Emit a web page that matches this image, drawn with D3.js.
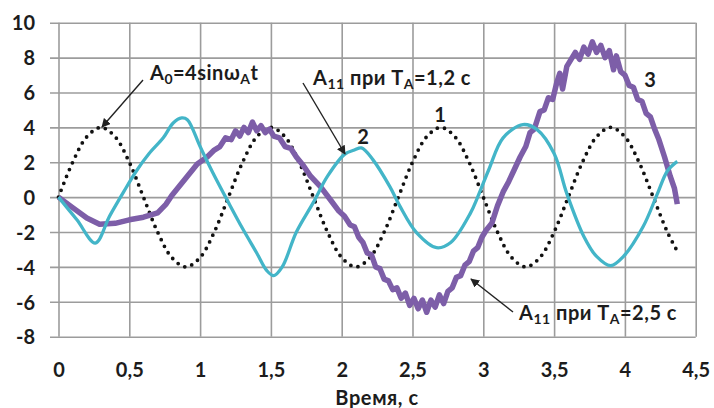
<!DOCTYPE html>
<html>
<head>
<meta charset="utf-8">
<script src="https://cdn.jsdelivr.net/npm/d3@7/dist/d3.min.js"></script>
<style>
  html, body { margin: 0; padding: 0; background: #ffffff; }
  svg { display: block; }
  text { font-family: Lato, "Open Sans", sans-serif; font-weight: 700; fill: #1c1c1c; }
</style>
</head>
<body>
<script>
// Tick values of both axes
const xTicks = [0, 0.5, 1, 1.5, 2, 2.5, 3, 3.5, 4, 4.5];
const yTicks = [-8, -6, -4, -2, 0, 2, 4, 6, 8, 10];

// 1: reference oscillation A0 = 4 sin(wA t), sampled every 0.1 s
const sineTime = [0, 0.1, 0.2, 0.3, 0.4, 0.5, 0.6, 0.7, 0.8, 0.9, 1.0, 1.1,
                  1.2, 1.3, 1.4, 1.5, 1.6, 1.7, 1.8, 1.9, 2.0, 2.1, 2.2, 2.3,
                  2.4, 2.5, 2.6, 2.7, 2.8, 2.9, 3.0, 3.1, 3.2, 3.3, 3.4, 3.5,
                  3.6, 3.7, 3.8, 3.9, 4.0, 4.1, 4.2, 4.3, 4.36];
const sineValue = [0, 2, 3.46, 4, 3.46, 2, 0, -2, -3.46, -4, -3.46, -2,
                   0, 2, 3.46, 4, 3.46, 2, 0, -2, -3.46, -4, -3.46, -2,
                   0, 2, 3.46, 4, 3.46, 2, 0, -2, -3.46, -4, -3.46, -2,
                   0, 2, 3.46, 4, 3.46, 2, 0, -2, -2.95];

// 2: A11 response at TA = 1.2 s
const cyanTime = [0, 0.13, 0.26, 0.36, 0.46, 0.55, 0.64, 0.74, 0.81, 0.87, 0.91, 1.0,
                  1.09, 1.2, 1.3, 1.4, 1.47, 1.52, 1.58, 1.68, 1.8, 1.9, 2.02, 2.09, 2.14,
                  2.22, 2.34, 2.41, 2.53, 2.67, 2.77, 2.91, 2.96, 3.04, 3.14, 3.28, 3.38,
                  3.5, 3.59, 3.71, 3.8, 3.9, 3.99, 4.13, 4.23, 4.3, 4.37];
const cyanValue = [0, -1.3, -2.63, -1.1, 0.3, 1.5, 2.5, 3.4, 4.25, 4.54, 4.44, 2.9,
                   1.4, -0.3, -1.8, -3.2, -4.2, -4.5, -4.0, -2.0, -0.3, 1.2, 2.45, 2.7, 2.82,
                   2.15, 0.6, -0.5, -2.05, -2.9, -2.6, -0.9, 0.0, 1.6, 3.4, 4.16, 3.87,
                   2.5, 0.2, -2.25, -3.4, -3.93, -3.4, -1.67, 0.2, 1.5, 2.05];

// 3: A11 response at TA = 2.5 s (noisy record)
const purpleTime = [0, 0.1, 0.2, 0.29, 0.4, 0.5, 0.6, 0.7, 0.76, 0.8, 0.9, 0.98,
                    1.05, 1.1, 1.14, 1.18, 1.22, 1.25, 1.28, 1.31, 1.34, 1.37, 1.4, 1.43,
                    1.46, 1.49, 1.52, 1.56, 1.6, 1.64, 1.68, 1.73, 1.78, 1.85, 1.92, 1.98,
                    2.02, 2.06, 2.09, 2.12, 2.15, 2.18, 2.21, 2.24, 2.27, 2.3, 2.33, 2.36,
                    2.39, 2.42, 2.45, 2.48, 2.51, 2.54, 2.57, 2.6, 2.63, 2.66, 2.69, 2.72,
                    2.75, 2.78, 2.81, 2.84, 2.87, 2.9, 2.93, 2.96, 2.99, 3.02, 3.06, 3.1,
                    3.14, 3.18, 3.22, 3.26, 3.3, 3.33, 3.36, 3.4, 3.43, 3.46, 3.49, 3.52,
                    3.54, 3.56, 3.59, 3.62, 3.65, 3.68, 3.71, 3.74, 3.77, 3.8, 3.83, 3.86,
                    3.89, 3.92, 3.94, 3.97, 4.0, 4.03, 4.06, 4.09, 4.12, 4.15, 4.18, 4.21,
                    4.24, 4.28, 4.32, 4.35, 4.37];
const purpleValue = [0, -0.6, -1.2, -1.55, -1.5, -1.3, -1.15, -0.9, -0.4, 0.1, 1.1, 1.9,
                     2.3, 2.7, 2.9, 3.4, 3.3, 3.8, 3.5, 4.0, 3.7, 4.3, 3.8, 4.1,
                     3.7, 3.9, 3.5, 3.4, 2.9, 2.8, 2.3, 1.8, 1.2, 0.6, -0.15, -0.8,
                     -1.1, -1.6, -1.7, -2.3, -2.6, -3.2, -3.3, -4.0, -4.1, -4.7, -4.8, -5.3,
                     -5.2, -5.8, -5.5, -6.2, -5.8, -6.4, -5.9, -6.6, -5.9, -6.3, -5.6, -6.1,
                     -5.4, -5.2, -4.6, -4.5, -3.9, -3.7, -3.1, -2.9, -2.3, -1.9, -1.5, -0.5,
                     0.3, 0.9, 1.6, 2.3, 2.9, 3.7, 3.9, 4.9, 5.0, 5.7, 5.6, 6.6,
                     7.1, 6.2, 7.5, 7.9, 8.3, 7.9, 8.6, 8.2, 8.9, 8.3, 8.7, 8.0,
                     8.4, 7.3, 8.1, 7.2, 7.0, 6.4, 6.3, 5.6, 5.5, 4.8, 4.6, 3.9,
                     3.3, 2.3, 1.2, 0.5, -0.4];

const W = 714, H = 408;
const FS = 20;
const svg = d3.select("body").append("svg").attr("width", W).attr("height", H);

const x = d3.scaleLinear().domain([0, 4.5]).range([58.5, 695.7]);
const y = d3.scaleLinear().domain([-8, 10]).range([336.7, 22.7]);
const gridLeft = 50;
const comma = d => String(d).replace(".", ",");

// Horizontal grid
svg.append("g")
  .attr("transform", `translate(${gridLeft},0)`)
  .call(d3.axisRight(y).tickValues(yTicks).tickSize(x.range()[1] - gridLeft).tickFormat(""))
  .call(g => g.select(".domain").remove())
  .call(g => g.selectAll("line").attr("stroke", "#9c9c9c").attr("stroke-width", 1.6));

// Vertical grid
svg.append("g")
  .attr("transform", `translate(0,${y(-8)})`)
  .call(d3.axisTop(x).tickValues(xTicks).tickSize(y(-8) - y(10)).tickFormat(""))
  .call(g => g.select(".domain").remove())
  .call(g => g.selectAll("line").attr("stroke", "#9c9c9c").attr("stroke-width", 1.6));

// Y tick labels
svg.append("g")
  .attr("transform", `translate(${x(0)},0)`)
  .call(d3.axisLeft(y).tickValues(yTicks).tickSize(0).tickPadding(x(0) - 35).tickFormat(d => d))
  .call(g => g.select(".domain").remove())
  .call(g => g.selectAll("text").attr("font-size", FS).attr("dy", "0.36em")
    .style("font-family", "Lato, sans-serif").style("font-weight", 700).attr("fill", "#1c1c1c"));

// X tick labels
svg.append("g")
  .attr("transform", `translate(0,${y(-8)})`)
  .call(d3.axisBottom(x).tickValues(xTicks).tickSize(0).tickFormat(comma))
  .call(g => g.select(".domain").remove())
  .call(g => g.selectAll("text").attr("font-size", FS).attr("y", 40.5).attr("dy", 0)
    .style("font-family", "Lato, sans-serif").style("font-weight", 700).attr("fill", "#1c1c1c"));

// Axis title
svg.append("text")
  .attr("x", (x.range()[0] + x.range()[1]) / 2).attr("y", 405)
  .attr("text-anchor", "middle").attr("font-size", FS).attr("letter-spacing", 0.6)
  .text("Время, с");

const zip = (a, b) => a.map((t, i) => [t, b[i]]);

// Reference sine, dotted
svg.append("path")
  .attr("d", d3.line().x(d => x(d[0])).y(d => y(d[1])).curve(d3.curveCatmullRom)(zip(sineTime, sineValue)))
  .attr("fill", "none").attr("stroke", "#111")
  .attr("stroke-width", 3.8).attr("stroke-linecap", "round")
  .attr("stroke-dasharray", "0 7.4");

// Purple response
svg.append("path")
  .attr("d", d3.line().x(d => x(d[0])).y(d => y(d[1])).curve(d3.curveLinear)(zip(purpleTime, purpleValue)))
  .attr("fill", "none").attr("stroke", "#7d5ea8")
  .attr("stroke-width", 5.5).attr("stroke-linejoin", "round");

// Cyan response
svg.append("path")
  .attr("d", d3.line().x(d => x(d[0])).y(d => y(d[1])).curve(d3.curveCatmullRom)(zip(cyanTime, cyanValue)))
  .attr("fill", "none").attr("stroke", "#43b5c8")
  .attr("stroke-width", 3.3).attr("stroke-linejoin", "round");

// Arrow marker
svg.append("defs").append("marker")
  .attr("id", "head").attr("viewBox", "0 0 10 10")
  .attr("refX", 9).attr("refY", 5)
  .attr("markerWidth", 9).attr("markerHeight", 9)
  .attr("markerUnits", "userSpaceOnUse")
  .attr("orient", "auto")
  .append("path").attr("d", "M0,0 L10,5 L0,10 Z").attr("fill", "#222");

const arrows = [
  [[143, 80], [102, 127]],
  [[303, 83], [345, 154]],
  [[513, 312], [471, 279]]
];
svg.append("g").selectAll("line").data(arrows).join("line")
  .attr("x1", d => d[0][0]).attr("y1", d => d[0][1])
  .attr("x2", d => d[1][0]).attr("y2", d => d[1][1])
  .attr("stroke", "#222").attr("stroke-width", 1.4)
  .attr("marker-end", "url(#head)");

// Annotation labels with subscripts
function label(px, py, parts) {
  const t = svg.append("text").attr("x", px).attr("y", py)
    .attr("font-size", FS).attr("letter-spacing", 0.5);
  parts.forEach(p => {
    const s = t.append("tspan").text(p[0]);
    if (p[1] === "sub") s.attr("font-size", 14).attr("dy", 4);
    else if (p[1] === "up") s.attr("dy", -4);
  });
  return t;
}
label(150, 80, [["A"], ["0", "sub"], ["=4sin", "up"], ["ω"], ["A", "sub"], ["t", "up"]]);
label(313, 85, [["A"], ["11", "sub"], [" при T", "up"], ["A", "sub"], ["=1,2 с", "up"]]);
label(519, 320, [["A"], ["11", "sub"], [" при T", "up"], ["A", "sub"], ["=2,5 с", "up"]]);

svg.append("text").attr("x", 440).attr("y", 122).attr("text-anchor", "middle").attr("font-size", FS).text("1");
svg.append("text").attr("x", 363).attr("y", 144).attr("text-anchor", "middle").attr("font-size", FS).text("2");
svg.append("text").attr("x", 650).attr("y", 87).attr("text-anchor", "middle").attr("font-size", FS).text("3");
</script>
</body>
</html>
